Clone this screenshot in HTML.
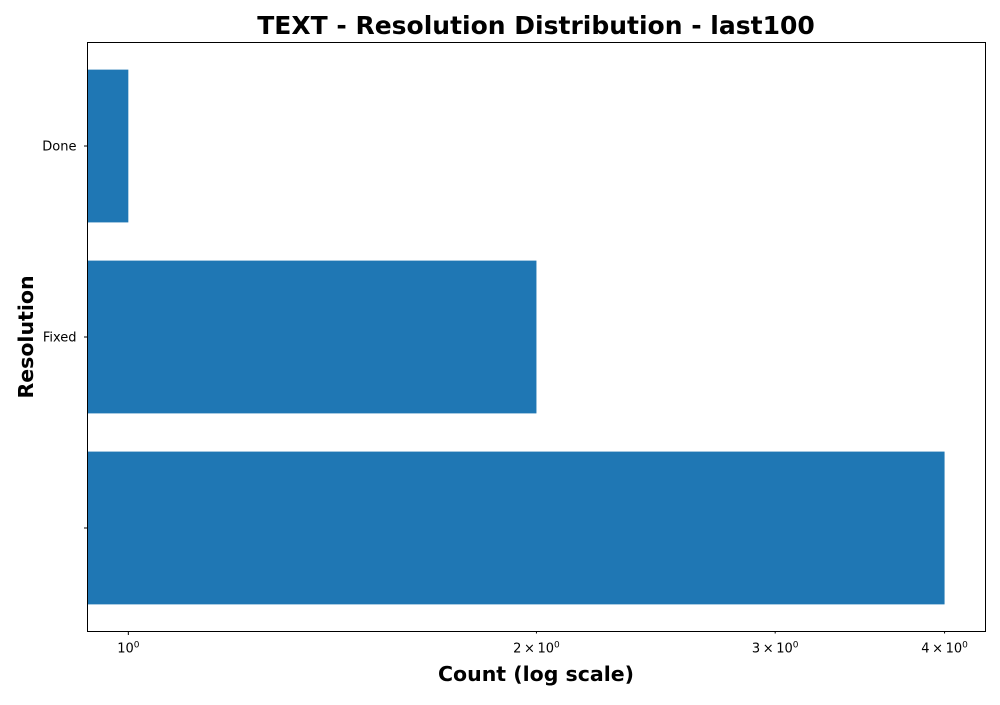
<!DOCTYPE html>
<html><head><meta charset="utf-8"><style>
body{margin:0;background:#fff;}
svg{font-family:"DejaVu Sans","Liberation Sans",sans-serif;}
</style></head><body>
<svg id="chart" width="1000" height="700">
<text x="536" y="34" text-anchor="middle" font-size="25" font-weight="bold">TEXT - Resolution Distribution - last100</text>
<text x="536" y="681" text-anchor="middle" font-size="20.5" font-weight="bold">Count (log scale)</text>
<text transform="translate(33,337) rotate(-90)" text-anchor="middle" font-size="20.5" font-weight="bold">Resolution</text>
<g id="bars"></g>
<g id="ticks"></g>
<rect x="87.5" y="42.5" width="898" height="589" fill="none" stroke="#000" stroke-width="1"/>
</svg>
<script>
const categories = ["", "Fixed", "Done"];
const counts = [4, 2, 1];
const xTicks = [1, 2, 3, 4];
const xTickLabels = ["10", "2\u2009\u00d7\u200910", "3\u2009\u00d7\u200910", "4\u2009\u00d7\u200910"];
const L=87.5,R=985.5,T=42.5,B=631.5;
const xmin=0.933,xmax=4.288;
function xs(v){return L+(Math.log(v)-Math.log(xmin))/(Math.log(xmax)-Math.log(xmin))*(R-L);}
const n=categories.length;
const y0=-0.542, y1=n-1+0.542;
function yv(v){return B-(v-y0)/(y1-y0)*(B-T);}
const NS="http://www.w3.org/2000/svg";
const gb=document.getElementById('bars'), gt=document.getElementById('ticks');
categories.forEach((c,i)=>{
  const r=document.createElementNS(NS,'rect');
  r.setAttribute('x',L);r.setAttribute('width',xs(counts[i])-L);
  r.setAttribute('y',yv(i+0.4));r.setAttribute('height',yv(i-0.4)-yv(i+0.4));
  r.setAttribute('fill','#1f77b4');
  
  
  gb.appendChild(r);
  const tk=document.createElementNS(NS,'line');
  tk.setAttribute('x1',L-3.5);tk.setAttribute('x2',L);tk.setAttribute('y1',yv(i));tk.setAttribute('y2',yv(i));tk.setAttribute('stroke','#000');
  
  
  gt.appendChild(tk);
  const t=document.createElementNS(NS,'text');
  t.setAttribute('x',L-11);t.setAttribute('y',yv(i)+4.5);t.setAttribute('text-anchor','end');t.setAttribute('font-size','13');
  t.textContent=c;
  
  
  gt.appendChild(t);
});
xTicks.forEach((v,i)=>{
  const x=xs(v);
  const tk=document.createElementNS(NS,'line');
  tk.setAttribute('x1',x);tk.setAttribute('x2',x);tk.setAttribute('y1',B);tk.setAttribute('y2',B+(v===1?3.5:2));tk.setAttribute('stroke','#000');
  
  
  gt.appendChild(tk);
  const t=document.createElementNS(NS,'text');
  t.setAttribute('x',x);t.setAttribute('y',B+21);t.setAttribute('text-anchor','middle');t.setAttribute('font-size','13');
  t.innerHTML=xTickLabels[i]+'<tspan dy="-5" font-size="9">0</tspan>';
  
  
  gt.appendChild(t);
});
</script>
</body></html>
